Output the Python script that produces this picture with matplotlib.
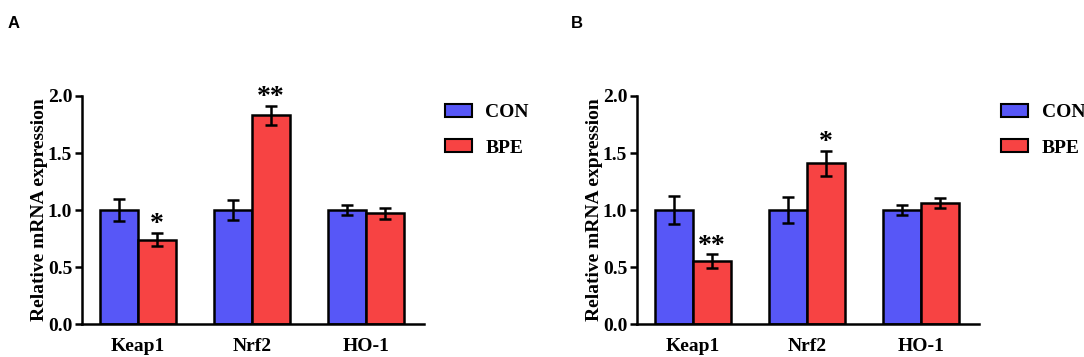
import numpy as np
import matplotlib
matplotlib.use("Agg")
import matplotlib.pyplot as plt
from matplotlib.patches import Patch

genes = ["Keap1", "Nrf2", "HO-1"]

con_a = [1.00, 1.00, 1.00]
con_a_err = [0.10, 0.09, 0.04]
bpe_a = [0.74, 1.83, 0.97]
bpe_a_err = [0.06, 0.085, 0.05]
stars_a = ["*", "**", ""]

con_b = [1.00, 1.00, 1.00]
con_b_err = [0.12, 0.11, 0.04]
bpe_b = [0.55, 1.41, 1.06]
bpe_b_err = [0.06, 0.11, 0.045]
stars_b = ["**", "*", ""]

blue = "#5757F7"
red = "#F74343"

plt.rcParams['font.family'] = ['Liberation Serif']
plt.rcParams['font.weight'] = 'bold'

fig = plt.figure(figsize=(10.84, 3.57), dpi=100)


def panel(rect, con, con_err, bpe, bpe_err, stars, letter, letter_x, leg_x):
    ax = fig.add_axes(rect)
    x = np.arange(len(genes))
    w = 0.333
    ax.bar(x - w / 2, con, w, color=blue, edgecolor="black", linewidth=1.8, zorder=2)
    ax.bar(x + w / 2, bpe, w, color=red, edgecolor="black", linewidth=1.8, zorder=2)
    ax.errorbar(x - w / 2, con, yerr=con_err, fmt="none", ecolor="black",
                elinewidth=1.8, capsize=4, capthick=1.8, zorder=3)
    ax.errorbar(x + w / 2, bpe, yerr=bpe_err, fmt="none", ecolor="black",
                elinewidth=1.8, capsize=4, capthick=1.8, zorder=3)
    for i, s in enumerate(stars):
        if s:
            ax.text(x[i] + w / 2, bpe[i] + bpe_err[i] - 0.04, s, ha="center", va="bottom",
                    fontsize=20, fontweight="bold")
    ax.set_xlim(-0.49, 2.51)
    ax.set_ylim(0, 2.0)
    ax.set_yticks([0, 0.5, 1.0, 1.5, 2.0])
    ax.set_yticklabels(["0.0", "0.5", "1.0", "1.5", "2.0"])
    ax.set_xticks(x)
    ax.set_xticklabels(genes)
    ax.tick_params(axis="y", length=5, width=1.8, labelsize=14, pad=2)
    ax.tick_params(axis="x", length=0, labelsize=14, pad=10)
    for lab in ax.get_xticklabels() + ax.get_yticklabels():
        lab.set_fontweight("bold")
    ax.spines["top"].set_visible(False)
    ax.spines["right"].set_visible(False)
    ax.spines["left"].set_linewidth(1.8)
    ax.spines["bottom"].set_linewidth(1.8)
    ax.set_ylabel("Relative mRNA expression", fontsize=14, fontweight="bold", labelpad=0)
    fig.text(letter_x, 0.935, letter, fontsize=12, fontweight="bold",
             family="Liberation Sans", ha="left", va="center")
    handles = [Patch(facecolor=blue, edgecolor="black", linewidth=1.5, label="CON"),
               Patch(facecolor=red, edgecolor="black", linewidth=1.5, label="BPE")]
    fig.legend(handles=handles, loc="upper left", bbox_to_anchor=(leg_x, 0.759),
               frameon=False, prop={"family": "Liberation Serif", "weight": "bold", "size": 14},
               handlelength=1.4, handleheight=0.65, labelspacing=0.95, handletextpad=0.7)
    return ax


panel([0.0756, 0.0924, 0.3155, 0.6387], con_a, con_a_err, bpe_a, bpe_a_err,
      stars_a, "A", 0.007, 0.394)
panel([0.5876, 0.0924, 0.3155, 0.6387], con_b, con_b_err, bpe_b, bpe_b_err,
      stars_b, "B", 0.527, 0.907)

fig.savefig("out.png", dpi=100)
